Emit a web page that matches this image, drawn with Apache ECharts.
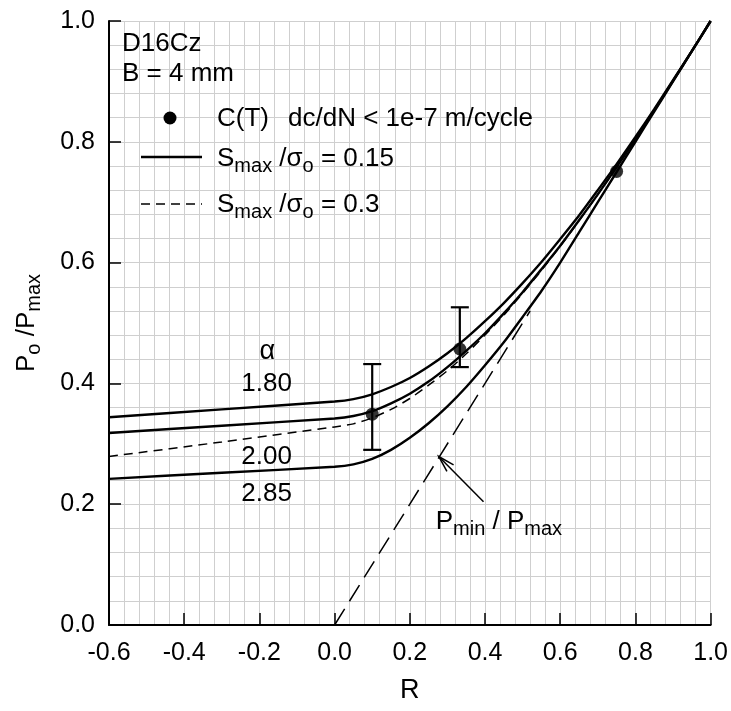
<!DOCTYPE html>
<html><head><meta charset="utf-8">
<script src="https://cdn.jsdelivr.net/npm/echarts@6/dist/echarts.min.js"></script>
<style>html,body{margin:0;padding:0;background:#fff}#c{width:731px;height:711px}</style>
</head><body><div id="c"></div>
<script>
// ---- data ----
const R_GRID   = [-0.6,-0.3,0,0.05,0.1,0.15,0.2,0.25,0.3,0.35,0.4,0.45,0.5,0.55,0.6,0.65,0.7,0.75,0.8,0.85,0.9,0.95,1.0];
const alpha180 = [0.344,0.357,0.370,0.374,0.382,0.394,0.409,0.428,0.450,0.475,0.503,0.533,0.566,0.601,0.639,0.678,0.720,0.763,0.808,0.854,0.902,0.950,1.0];
const alpha200 = [0.318,0.330,0.342,0.346,0.354,0.367,0.383,0.403,0.427,0.454,0.483,0.516,0.551,0.589,0.628,0.670,0.713,0.758,0.805,0.852,0.901,0.950,1.0];
const smax03   = [0.279,0.303,0.328,0.333,0.343,0.357,0.375,0.397,0.421,0.449,0.480,0.513,0.549,0.587,0.627,0.669,0.713,0.758,0.804,0.852,0.901,0.950,1.0];
const alpha285 = [0.242,0.252,0.262,0.266,0.275,0.290,0.310,0.334,0.362,0.394,0.430,0.468,0.510,0.553,0.600,0.650,0.700,0.750,0.800,0.850,0.900,0.950,1.0];
const pminR = [0, 0.52];
const pminY = [0, 0.52];
const ctR    = [0.10, 0.333, 0.75];
const ctY    = [0.349, 0.457, 0.751];
const ctLow  = [0.290, 0.427, null];
const ctHigh = [0.432, 0.526, null];
const alphaLabels = ['1.80', '2.00', '2.85'];
const xTickLabels = ['-0.6','-0.4','-0.2','0.0','0.2','0.4','0.6','0.8','1.0'];

const FONT = 'Liberation Sans, Arial, sans-serif';
const zip = (xs, ys) => xs.map((x, i) => [x, ys[i]]);
const chart = echarts.init(document.getElementById('c'), null, {renderer: 'canvas'});

const curveStyle = {color: '#000', width: 2.4};
const lineSeries = (name, ys, style) => ({
  name, type: 'line', data: zip(R_GRID, ys), showSymbol: false, smooth: 0.25,
  lineStyle: style, z: 3, silent: true
});

chart.setOption({
  animation: false,
  backgroundColor: '#fff',
  grid: {left: 109, right: 19, top: 21, bottom: 86, containLabel: false},
  xAxis: {
    type: 'value', min: -0.6, max: 1.0, interval: 0.2,
    axisLine: {show: true, onZero: false, lineStyle: {color: '#000', width: 2}},
    axisTick: {show: true, inside: true, length: 12, lineStyle: {color: '#000', width: 1.5}},
    axisLabel: {color: '#000', fontSize: 25, fontFamily: FONT, margin: 16,
      formatter: v => xTickLabels[Math.round((v + 0.6) / 0.2)]},
    splitLine: {show: true, lineStyle: {color: '#cfcfcf', width: 1}},
    minorTick: {show: false, splitNumber: 5},
    minorSplitLine: {show: true, lineStyle: {color: '#cfcfcf', width: 1}},
    name: 'R', nameLocation: 'middle', nameGap: 52,
    nameTextStyle: {color: '#000', fontSize: 27, fontFamily: FONT}
  },
  yAxis: {
    type: 'value', min: 0, max: 1.0, interval: 0.2,
    axisLine: {show: true, onZero: false, lineStyle: {color: '#000', width: 2}},
    axisTick: {show: true, inside: true, length: 12, lineStyle: {color: '#000', width: 1.5}},
    axisLabel: {color: '#000', fontSize: 25, fontFamily: FONT, margin: 14,
      formatter: v => v.toFixed(1)},
    splitLine: {show: true, lineStyle: {color: '#cfcfcf', width: 1}},
    minorTick: {show: false, splitNumber: 5},
    minorSplitLine: {show: true, lineStyle: {color: '#cfcfcf', width: 1}}
  },
  series: [
    lineSeries('a180', alpha180, curveStyle),
    lineSeries('a200', alpha200, curveStyle),
    lineSeries('a285', alpha285, curveStyle),
    lineSeries('s03', smax03, {color: '#000', width: 1.5, type: [9, 6]}),
    {name: 'pmin', type: 'line', data: zip(pminR, pminY), showSymbol: false,
     lineStyle: {color: '#000', width: 1.5, type: [19, 9]}, z: 2, silent: true},
    {name: 'err', type: 'custom', encode: {x: 0, y: [1, 2]}, z: 4, silent: true,
     data: ctR.map((r, i) => ctLow[i] == null ? null : [r, ctLow[i], ctHigh[i]]).filter(Boolean),
     renderItem: (params, api) => {
       const x = api.value(0), lo = api.value(1), hi = api.value(2);
       const p1 = api.coord([x, hi]), p2 = api.coord([x, lo]);
       const w = 9, st = {stroke: '#000', lineWidth: 2.2};
       return {type: 'group', children: [
         {type: 'line', shape: {x1: p1[0], y1: p1[1], x2: p2[0], y2: p2[1]}, style: st},
         {type: 'line', shape: {x1: p1[0]-w, y1: p1[1], x2: p1[0]+w, y2: p1[1]}, style: st},
         {type: 'line', shape: {x1: p2[0]-w, y1: p2[1], x2: p2[0]+w, y2: p2[1]}, style: st}
       ]};
     }},
    {name: 'ct', type: 'scatter', data: zip(ctR, ctY), symbol: 'circle', symbolSize: 13,
     itemStyle: {color: '#000'}, z: 5, silent: true}
  ]
});

// ---- annotations (positions in data coordinates) ----
const px = (x, y) => chart.convertToPixel({gridIndex: 0}, [x, y]);
const rich = {
  m: {fontSize: 26, fontFamily: FONT, color: '#000', lineHeight: 30, verticalAlign: 'top'},
  s: {fontSize: 20, fontFamily: FONT, color: '#000', lineHeight: 20, verticalAlign: 'bottom', padding: [14, 0, 0, 0]}
};
const plain = (text, x, y, align, size) => ({type: 'text', x, y, silent: true, z: 10,
  style: {text, fill: '#000', font: (size || 26) + 'px ' + FONT, align: align || 'left', verticalAlign: 'middle'}});
const richText = (text, x, y, align, rot) => ({type: 'text', x, y, rotation: rot || 0, silent: true, z: 10,
  style: {text, rich, align: align || 'left', verticalAlign: 'top'}});

const aPos = px(-0.179, 0.452);
const l180 = px(-0.181, 0.399), l200 = px(-0.181, 0.279), l285 = px(-0.181, 0.217);
const pmPos = px(0.269, 0.167);
const arrTail = px(0.396, 0.204), arrTip = px(0.277, 0.279);
const dx = arrTail[0] - arrTip[0], dy = arrTail[1] - arrTip[1];
const L = Math.hypot(dx, dy), ux = dx / L, uy = dy / L;
const ang = 16 * Math.PI / 180, hl = 17;
const wing = s => [arrTip[0] + hl * (ux * Math.cos(s*ang) - uy * Math.sin(s*ang)),
                   arrTip[1] + hl * (ux * Math.sin(s*ang) + uy * Math.cos(s*ang))];

chart.setOption({graphic: [
  plain('D16Cz', 122, 44),
  plain('B = 4 mm', 122, 74),
  {type: 'circle', shape: {cx: 170, cy: 118, r: 6.5}, style: {fill: '#000'}, silent: true},
  plain('C(T)', 217, 119),
  plain('dc/dN < 1e-7 m/cycle', 288, 119),
  {type: 'line', shape: {x1: 141, y1: 157, x2: 202, y2: 157}, style: {stroke: '#000', lineWidth: 2.4}, silent: true},
  richText('{m|S}{s|max}{m| /σ}{s|o}{m| = 0.15}', 217, 146),
  {type: 'line', shape: {x1: 141, y1: 204, x2: 202, y2: 204}, style: {stroke: '#000', lineWidth: 1.5, lineDash: [9, 6]}, silent: true},
  richText('{m|S}{s|max}{m| /σ}{s|o}{m| = 0.3}', 217, 192),
  plain('α', aPos[0], aPos[1], 'center', 27),
  plain(alphaLabels[0], l180[0], l180[1], 'center'),
  plain(alphaLabels[1], l200[0], l200[1], 'center'),
  plain(alphaLabels[2], l285[0], l285[1], 'center'),
  richText('{m|P}{s|min}{m| / P}{s|max}', pmPos[0], pmPos[1] - 15, 'left'),
  {type: 'line', shape: {x1: arrTail[0], y1: arrTail[1], x2: arrTip[0], y2: arrTip[1]}, style: {stroke: '#000', lineWidth: 1.5}, silent: true},
  {type: 'polyline', shape: {points: [wing(1), arrTip, wing(-1)]}, style: {stroke: '#000', lineWidth: 1.5, fill: null}, silent: true},
  richText('{m|P}{s|o}{m| /P}{s|max}', 14, 323, 'center', Math.PI / 2)
]});
</script>
</body></html>
